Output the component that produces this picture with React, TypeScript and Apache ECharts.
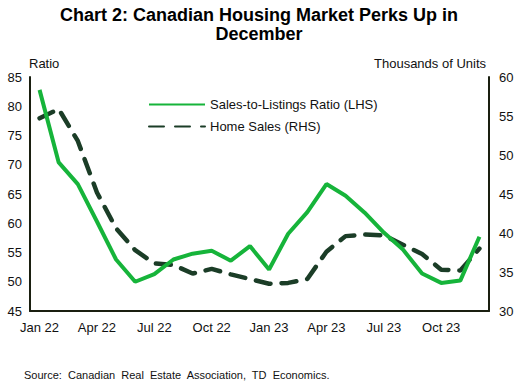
import React, { useEffect, useRef } from "react";
import * as echarts from "echarts";

const months = [
  "Jan 22", "Feb 22", "Mar 22", "Apr 22", "May 22", "Jun 22", "Jul 22", "Aug 22", "Sep 22", "Oct 22", "Nov 22", "Dec 22",
  "Jan 23", "Feb 23", "Mar 23", "Apr 23", "May 23", "Jun 23", "Jul 23", "Aug 23", "Sep 23", "Oct 23", "Nov 23", "Dec 23",
];

const salesToListings = [
  82.8, 70.4, 66.7, 60.3, 53.8, 50.0, 51.3, 53.8, 54.8, 55.3, 53.6, 56.1,
  52.1, 58.2, 61.9, 66.7, 64.7, 61.8, 58.4, 55.5, 51.4, 49.8, 50.2, 57.7,
];

const homeSales = [
  54.7, 55.9, 51.8, 45.2, 40.6, 37.8, 36.1, 35.9, 34.8, 35.4, 34.7, 34.1,
  33.5, 33.6, 34.1, 37.6, 39.6, 39.8, 39.7, 38.5, 37.3, 35.3, 35.2, 38.0,
];

const leftTicks = { min: 45, max: 85, interval: 5 };
const rightTicks = { min: 30, max: 60, interval: 5 };

const GREEN = "#16B43A";
const DARK = "#1B3D27";
const FONT = "Liberation Sans, Arial, sans-serif";

export default function App() {
  const ref = useRef<HTMLDivElement>(null);
  useEffect(() => {
    if (!ref.current) return;
    const chart = echarts.init(ref.current, null, { renderer: "svg" });
    chart.setOption({
      animation: false,
      backgroundColor: "#ffffff",
      textStyle: { fontFamily: FONT },
      title: {
        text: "Chart 2: Canadian Housing Market Perks Up in\nDecember",
        left: "center",
        top: 0,
        textStyle: { fontFamily: FONT, fontSize: 18, fontWeight: "bold", color: "#000", lineHeight: 19 },
      },
      legend: {
        orient: "vertical",
        left: 143,
        top: 93,
        itemWidth: 56,
        itemHeight: 16,
        itemGap: 9,
        itemStyle: { opacity: 0 },
        textStyle: { fontFamily: FONT, fontSize: 13, color: "#111" },
        data: ["Sales-to-Listings Ratio (LHS)", "Home Sales (RHS)"],
      },
      grid: { left: 30, right: 29, top: 77, bottom: 75 },
      xAxis: {
        type: "category",
        data: months,
        boundaryGap: true,
        axisLine: { lineStyle: { color: "#1a1f10", width: 2 } },
        axisTick: { show: false },
        axisLabel: { interval: 2, fontSize: 13, color: "#111", fontFamily: FONT, margin: 10 },
        splitLine: { show: false },
      },
      yAxis: [
        {
          type: "value",
          ...leftTicks,
          position: "left",
          axisLine: { show: true, lineStyle: { color: "#1a1f10", width: 2 } },
          axisTick: { show: false },
          splitLine: { show: false },
          axisLabel: { fontSize: 13, color: "#111", fontFamily: FONT, margin: 8 },
        },
        {
          type: "value",
          ...rightTicks,
          position: "right",
          axisLine: { show: true, lineStyle: { color: "#1a1f10", width: 2 } },
          axisTick: { show: false },
          splitLine: { show: false },
          axisLabel: { fontSize: 13, color: "#111", fontFamily: FONT, margin: 10 },
        },
      ],
      series: [
        {
          name: "Sales-to-Listings Ratio (LHS)",
          type: "line",
          yAxisIndex: 0,
          data: salesToListings,
          symbol: "none",
          lineStyle: { color: GREEN, width: 4 },
          itemStyle: { color: GREEN },
          z: 3,
        },
        {
          name: "Home Sales (RHS)",
          type: "line",
          yAxisIndex: 1,
          data: homeSales,
          symbol: "none",
          lineStyle: { color: DARK, width: 4.5, type: [15, 11], cap: "round" },
          itemStyle: { color: DARK },
          z: 2,
        },
      ],
      graphic: [
        {
          type: "text",
          left: 29,
          top: 57,
          style: { text: "Ratio", fontFamily: FONT, fontSize: 13, fill: "#111" },
        },
        {
          type: "text",
          right: 32,
          top: 57,
          style: { text: "Thousands of Units", fontFamily: FONT, fontSize: 13, fill: "#111" },
        },
        {
          type: "text",
          left: 24,
          top: 369,
          style: {
            text: "Source:  Canadian  Real  Estate  Association,  TD  Economics.",
            fontFamily: FONT,
            fontSize: 11,
            fill: "#111",
          },
        },
      ],
    });
    return () => chart.dispose();
  }, []);
  return <div ref={ref} style={{ width: 518, height: 386, position: "absolute", left: 0, top: 0 }} />;
}
